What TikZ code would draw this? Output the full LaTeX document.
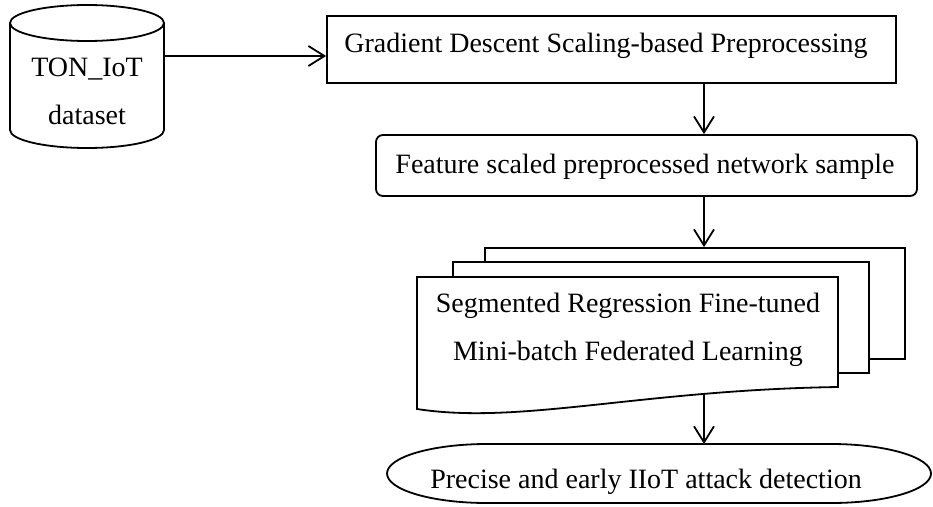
\documentclass[tikz,border=0pt]{standalone}
\usepackage{fontspec}
\setmainfont{Liberation Serif}
\usetikzlibrary{arrows.meta}
\begin{document}
\begin{tikzpicture}[x=1pt,y=1pt,
  line width=1.8pt,
  flow/.style={-{Straight Barb[length=16pt,width=20pt]}},
  lbl/.style={inner sep=0pt, anchor=base, font=\fontsize{28}{48}\selectfont},
  panel/.style={draw, fill=white, inner sep=0pt},
]
\useasboundingbox (0,0) rectangle (933,-506);

% vertical axis shared by the downward arrows
\coordinate (spine) at (704,0);

% dataset cylinder
\draw[fill=white] (10,-23) -- (10,-130)
  arc[start angle=180,end angle=360,x radius=77,y radius=18] -- (164,-23);
\draw (87,-23) ellipse [x radius=77,y radius=18];
\coordinate (dbR) at (164,-56);
\node[lbl] (dbA) at (87,-76) {TON\_IoT};
\node[lbl] (dbB) at (87,-124) {dataset};

% preprocessing step
\node[panel, minimum width=569pt, minimum height=67pt] (prep) at (611.5,-49.5) {};
\node[lbl] (prepT) at (606,-52) {Gradient Descent Scaling-based Preprocessing};

% scaled samples
\node[panel, rounded corners=7pt, minimum width=541pt, minimum height=61pt] (feat) at (646.5,-165.5) {};
\node[lbl] (featT) at (645,-173) {Feature scaled preprocessed network sample};

% stacked documents: federated learning
\node[panel, minimum width=420pt, minimum height=111pt] (back) at (695,-303.5) {};
\node[panel, minimum width=416pt, minimum height=111pt] (mid) at (661,-317.5) {};
\draw[fill=white] (417,-277) -- (838,-277) -- (838,-387)
  .. controls (640,-390) and (520,-425) .. (417,-409) -- cycle;
\coordinate (frontBot) at (704,-394);
\node[lbl] (srfA) at (628,-312) {Segmented Regression Fine-tuned};
\node[lbl] (srfB) at (628,-360) {Mini-batch Federated Learning};

% terminal: detection
\draw[fill=white] (487,-444) -- (831,-444)
  arc[start angle=90,end angle=-90,x radius=100,y radius=29.5] -- (487,-503)
  arc[start angle=270,end angle=90,x radius=100,y radius=29.5] -- cycle;
\coordinate (detTop) at (704,-444);
\node[lbl] (detT) at (646,-488) {Precise and early IIoT attack detection};

% connectors
\draw[flow] (dbR) -- (dbR -| prep.west);
\draw[flow] (prep.south -| spine) -- (feat.north -| spine);
\draw[flow] (feat.south -| spine) -- (back.north -| spine);
\draw[flow] (frontBot) -- (detTop);
\end{tikzpicture}
\end{document}
